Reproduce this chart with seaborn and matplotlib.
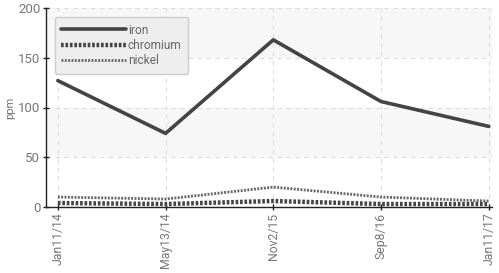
import matplotlib
matplotlib.use("Agg")
import matplotlib.pyplot as plt
import seaborn as sns
import pandas as pd
import numpy as np

dates = ["Jan11/14", "May13/14", "Nov2/15", "Sep8/16", "Jan11/17"]
iron = [127, 74, 168, 106, 81]
chromium = [4, 3, 6, 3, 3]
nickel = [10, 8, 20, 10, 6]
yticks = [0, 50, 100, 150, 200]

sns.set_theme(style="white")
plt.rcParams['font.family'] = ['Roboto', 'DejaVu Sans']

fig = plt.figure(figsize=(4.99, 2.73), dpi=100)
ax = fig.add_axes([46/499, 1-207/273, (492-46)/499, (207-8)/273])

pos = list(range(len(dates)))
df = pd.DataFrame({"pos": pos, "iron": iron, "chromium": chromium, "nickel": nickel})

# alternating bands
for lo, hi, c in [(0, 50, "white"), (50, 100, "#f7f7f7"), (100, 150, "white"), (150, 200, "#f7f7f7")]:
    ax.axhspan(lo, hi, color=c, zorder=0, lw=0)

sns.lineplot(data=df, x="pos", y="iron", ax=ax, color="#444444", lw=2.6, label="iron", zorder=3)
sns.lineplot(data=df, x="pos", y="chromium", ax=ax, color="#444444", lw=3.2,
             linestyle=(0, (0.6, 0.4)), label="chromium", zorder=3)
sns.lineplot(data=df, x="pos", y="nickel", ax=ax, color="#666666", lw=2.0,
             linestyle=(0, (0.7, 0.5)), label="nickel", zorder=3)

ax.set_xlim(-0.11, 4.03)
ax.set_ylim(0, 200)
ax.set_xticks(pos)
ax.set_xticklabels(dates, rotation=90, fontsize=8.8, color="#777777")
ax.set_yticks(yticks)
ax.set_yticklabels([str(v) for v in yticks], fontsize=9.5, color="#777777")
ax.set_xlabel("")
ax.set_ylabel("ppm", fontsize=8, color="#777777", labelpad=2)

ax.grid(True, linestyle=(0, (4, 4)), color="#dddddd", lw=0.8, zorder=1)
ax.set_axisbelow(True)
for s in ["top", "right"]:
    ax.spines[s].set_visible(False)
for s in ["left", "bottom"]:
    ax.spines[s].set_color("#222222")
    ax.spines[s].set_linewidth(1.0)
ax.tick_params(axis="both", which="both", length=4, width=1, color="#222222", pad=2,
               bottom=True, left=True, direction="inout")

leg = ax.legend(loc="upper left", bbox_to_anchor=(0.02, 0.955), fontsize=8.6,
                handlelength=5.4, handletextpad=0.15, labelspacing=0.2,
                frameon=True, fancybox=True, borderpad=0.55, borderaxespad=0.0)
leg.get_frame().set_facecolor("#eeeeee")
leg.get_frame().set_edgecolor("#cccccc")
leg.get_frame().set_alpha(1)
for t in leg.get_texts():
    t.set_color("#666666")

fig.savefig("out.png", dpi=100)
